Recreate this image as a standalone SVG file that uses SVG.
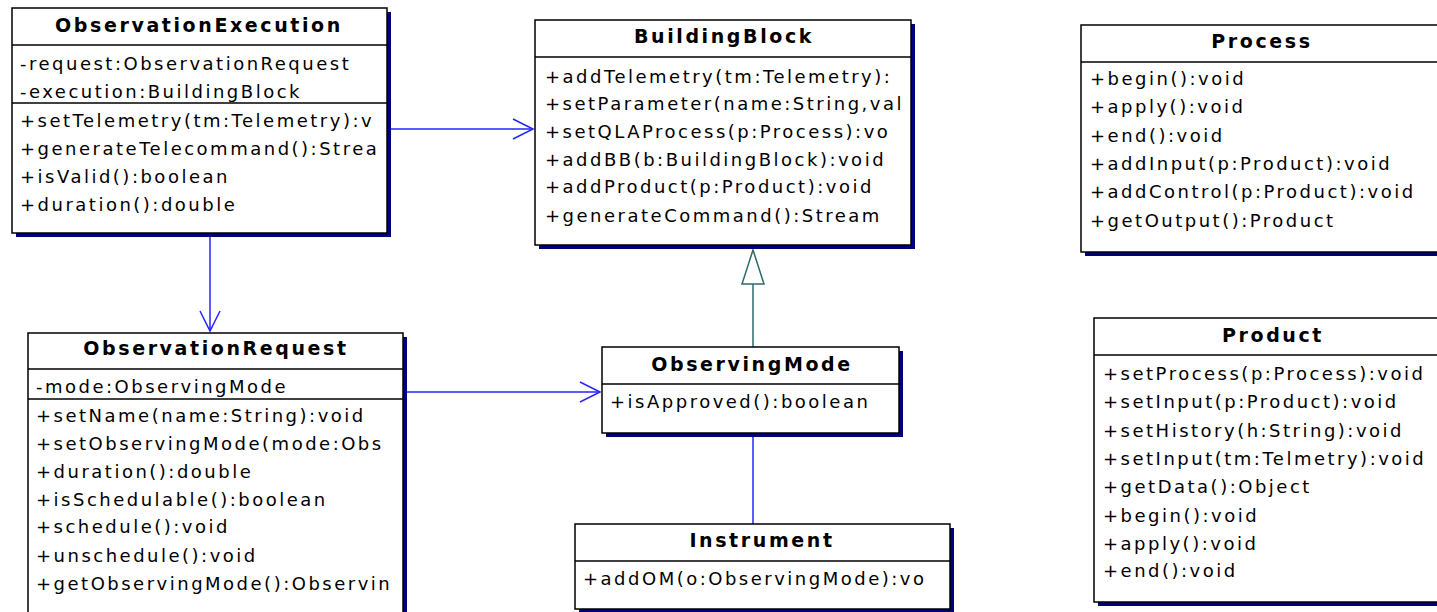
<svg xmlns="http://www.w3.org/2000/svg" width="1437" height="612" viewBox="0 0 1437 612">
  <style>
    .box { fill:#ffffff; stroke:#000000; stroke-width:1.5; }
    .shadow { fill:#00007a; }
    .sep { stroke:#000000; stroke-width:1.5; }
    .t { font-family:"DejaVu Sans", "Liberation Sans", sans-serif; font-size:18px; letter-spacing:2.5px; fill:#000000; }
    .h { font-family:"DejaVu Sans", "Liberation Sans", sans-serif; font-size:19px; font-weight:bold; letter-spacing:2.6px; fill:#000000; text-anchor:middle; }
    .assoc { stroke:#2424ff; stroke-width:1.5; fill:none; }
    .gen { stroke:#2e6b6b; stroke-width:1.5; fill:#ffffff; }
  </style>
  <defs>
    <clipPath id="clipOE"><rect x="12" y="8" width="374" height="225"/></clipPath>
    <clipPath id="clipBB"><rect x="535" y="20" width="375" height="225"/></clipPath>
    <clipPath id="clipOR"><rect x="28" y="333" width="374" height="300"/></clipPath>
    <clipPath id="clipIN"><rect x="575" y="524" width="374" height="90"/></clipPath>
  </defs>
  <rect width="1437" height="612" fill="#ffffff"/>

  <!-- connectors -->
  <g id="connectors">
    <line class="assoc" x1="391" y1="129" x2="533" y2="129"/>
    <polyline class="assoc" points="513,119 533,129 513,139"/>
    <line class="assoc" x1="210" y1="237" x2="210" y2="331"/>
    <polyline class="assoc" points="200,311 210,331 220,311"/>
    <line class="assoc" x1="407" y1="392" x2="600" y2="392"/>
    <polyline class="assoc" points="580,382 600,392 580,402"/>
    <line class="gen" x1="753" y1="347" x2="753" y2="284"/>
    <polygon class="gen" points="753,250 742,284 764,284"/>
    <line class="assoc" x1="753" y1="437" x2="753" y2="524"/>
  </g>

  <!-- ObservationExecution -->
  <g id="ObservationExecution">
    <rect class="shadow" x="16" y="12" width="375" height="225"/>
    <rect class="box" x="12" y="8" width="375" height="225"/>
    <line class="sep" x1="12" y1="45" x2="387" y2="45"/>
    <line class="sep" x1="12" y1="103" x2="387" y2="103"/>
    <text class="h" x="199" y="32">ObservationExecution</text>
    <g clip-path="url(#clipOE)">
      <text class="t" x="20" y="70">-request:ObservationRequest</text>
      <text class="t" x="20" y="98">-execution:BuildingBlock</text>
      <text class="t" x="20" y="127">+setTelemetry(tm:Telemetry):v</text>
      <text class="t" x="20" y="155">+generateTelecommand():Strea</text>
      <text class="t" x="20" y="183">+isValid():boolean</text>
      <text class="t" x="20" y="211">+duration():double</text>
    </g>
  </g>

  <!-- BuildingBlock -->
  <g id="BuildingBlock">
    <rect class="shadow" x="539" y="24" width="376" height="225"/>
    <rect class="box" x="535" y="20" width="376" height="225"/>
    <line class="sep" x1="535" y1="57" x2="911" y2="57"/>
    <text class="h" x="724" y="43">BuildingBlock</text>
    <g clip-path="url(#clipBB)">
      <text class="t" x="545" y="83">+addTelemetry(tm:Telemetry):</text>
      <text class="t" x="545" y="110">+setParameter(name:String,val</text>
      <text class="t" x="545" y="138">+setQLAProcess(p:Process):vo</text>
      <text class="t" x="545" y="166">+addBB(b:BuildingBlock):void</text>
      <text class="t" x="545" y="193">+addProduct(p:Product):void</text>
      <text class="t" x="545" y="222">+generateCommand():Stream</text>
    </g>
  </g>

  <!-- Process -->
  <g id="Process">
    <rect class="shadow" x="1085" y="29" width="380" height="227"/>
    <rect class="box" x="1081" y="25" width="380" height="227"/>
    <line class="sep" x1="1081" y1="62" x2="1461" y2="62"/>
    <text class="h" x="1262" y="48">Process</text>
    <text class="t" x="1090" y="85">+begin():void</text>
    <text class="t" x="1090" y="113">+apply():void</text>
    <text class="t" x="1090" y="142">+end():void</text>
    <text class="t" x="1090" y="170">+addInput(p:Product):void</text>
    <text class="t" x="1090" y="198">+addControl(p:Product):void</text>
    <text class="t" x="1090" y="227">+getOutput():Product</text>
  </g>

  <!-- Product -->
  <g id="Product">
    <rect class="shadow" x="1098" y="322" width="380" height="284"/>
    <rect class="box" x="1094" y="318" width="380" height="284"/>
    <line class="sep" x1="1094" y1="355" x2="1474" y2="355"/>
    <text class="h" x="1273" y="342">Product</text>
    <text class="t" x="1103" y="380">+setProcess(p:Process):void</text>
    <text class="t" x="1103" y="408">+setInput(p:Product):void</text>
    <text class="t" x="1103" y="437">+setHistory(h:String):void</text>
    <text class="t" x="1103" y="465">+setInput(tm:Telmetry):void</text>
    <text class="t" x="1103" y="493">+getData():Object</text>
    <text class="t" x="1103" y="522">+begin():void</text>
    <text class="t" x="1103" y="550">+apply():void</text>
    <text class="t" x="1103" y="577">+end():void</text>
  </g>

  <!-- ObservationRequest -->
  <g id="ObservationRequest">
    <rect class="shadow" x="32" y="337" width="375" height="300"/>
    <rect class="box" x="28" y="333" width="375" height="300"/>
    <line class="sep" x1="28" y1="369" x2="403" y2="369"/>
    <line class="sep" x1="28" y1="399" x2="403" y2="399"/>
    <text class="h" x="216" y="355">ObservationRequest</text>
    <g clip-path="url(#clipOR)">
      <text class="t" x="36" y="393">-mode:ObservingMode</text>
      <text class="t" x="36" y="422">+setName(name:String):void</text>
      <text class="t" x="36" y="450">+setObservingMode(mode:Obs</text>
      <text class="t" x="36" y="478">+duration():double</text>
      <text class="t" x="36" y="506">+isSchedulable():boolean</text>
      <text class="t" x="36" y="533">+schedule():void</text>
      <text class="t" x="36" y="562">+unschedule():void</text>
      <text class="t" x="36" y="590">+getObservingMode():Observin</text>
    </g>
  </g>

  <!-- ObservingMode -->
  <g id="ObservingMode">
    <rect class="shadow" x="606" y="351" width="297" height="86"/>
    <rect class="box" x="602" y="347" width="297" height="86"/>
    <line class="sep" x1="602" y1="384" x2="899" y2="384"/>
    <text class="h" x="752" y="371">ObservingMode</text>
    <text class="t" x="610" y="408">+isApproved():boolean</text>
  </g>

  <!-- Instrument -->
  <g id="Instrument">
    <rect class="shadow" x="579" y="528" width="375" height="90"/>
    <rect class="box" x="575" y="524" width="375" height="85"/>
    <line class="sep" x1="575" y1="561" x2="950" y2="561"/>
    <text class="h" x="762" y="547">Instrument</text>
    <g clip-path="url(#clipIN)">
      <text class="t" x="583" y="585">+addOM(o:ObservingMode):vo</text>
    </g>
  </g>
</svg>
